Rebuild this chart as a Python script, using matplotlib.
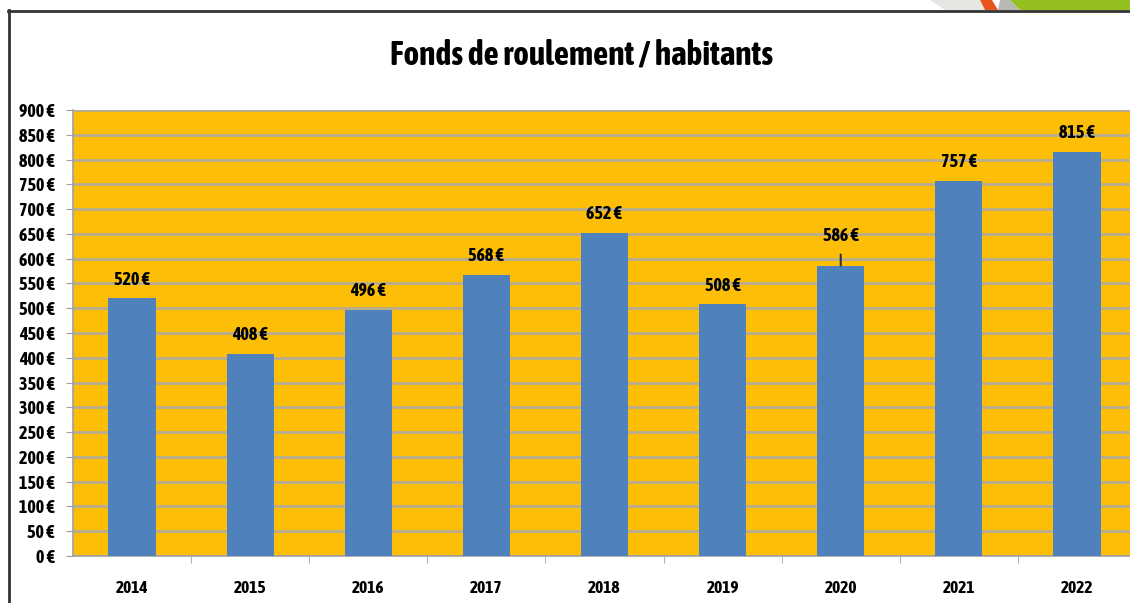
import matplotlib.pyplot as plt
from matplotlib import font_manager
from matplotlib.patches import Polygon
from matplotlib.lines import Line2D

years = ['2014', '2015', '2016', '2017', '2018', '2019', '2020', '2021', '2022']
values = [520, 408, 496, 568, 652, 508, 586, 757, 815]
yticks = list(range(0, 901, 50))
ytick_labels = ['%d €' % v for v in yticks]
title = 'Fonds de roulement / habitants'


def wt(f):
    w = f.weight
    return w if isinstance(w, int) else font_manager.weight_dict.get(w, 400)


# look for an upright bold narrow / condensed face, otherwise Roboto
narrow = [f for f in font_manager.fontManager.ttflist
          if ('Narrow' in f.name or 'Condensed' in f.name
              or f.stretch in ('condensed', 'semi-condensed'))]
bold_narrow = sorted(set(f.name for f in narrow if wt(f) >= 600 and f.style == 'normal'))
if bold_narrow:
    fam = bold_narrow[0]
else:
    fam = 'Roboto'
plt.rcParams['font.family'] = [fam, 'DejaVu Sans']
plt.rcParams['font.style'] = 'normal'

W, H = 1130, 603
fig = plt.figure(figsize=(W / 100, H / 100), dpi=100, facecolor='white')

# plot area in pixels (left, top, right, bottom)
l, t, r, b = 73, 110, 1136, 556
ax = fig.add_axes([l / W, 1 - b / H, (r - l) / W, (b - t) / H], facecolor='#FCBE07')

x = range(len(years))
ax.bar(x, values, width=0.4, color='#4F81BD', zorder=3)
ax.set_xlim(-0.5, len(years) - 0.5)
ax.set_ylim(0, 900)
ax.set_yticks(yticks)
ax.set_yticklabels(ytick_labels, fontsize=13, fontweight='bold')
ax.set_xticks(list(x))
ax.set_xticklabels(years, fontsize=12.5, fontweight='bold')
ax.set_xticks([i + 0.5 for i in x][:-1], minor=True)
ax.tick_params(axis='x', which='major', length=0, pad=17)
ax.tick_params(axis='x', which='minor', length=5, color='#A0A0A0', direction='out')
ax.tick_params(axis='y', length=5, color='#A0A0A0', direction='out', pad=8)
ax.yaxis.grid(True, color='#B8AC92', lw=2, zorder=1)
ax.set_axisbelow(True)
for s in ('top', 'right'):
    ax.spines[s].set_visible(False)
for s in ('left', 'bottom'):
    ax.spines[s].set_color('#A0A0A0')
    ax.spines[s].set_linewidth(1.2)

for i, v in enumerate(values):
    if years[i] == '2020':
        ax.annotate('%d €' % v, xy=(i, v), xytext=(0, 15), textcoords='offset points',
                    ha='center', va='bottom', fontsize=13, fontweight='bold',
                    arrowprops=dict(arrowstyle='-', color='#333333', lw=1.5,
                                    shrinkA=5, shrinkB=0))
    else:
        ax.annotate('%d €' % v, xy=(i, v), xytext=(0, 7), textcoords='offset points',
                    ha='center', va='bottom', fontsize=13, fontweight='bold')

fig.text(0.515, 1 - 55 / H, title, ha='center', va='center', fontsize=24, fontweight='bold')

# frame lines
fig.add_artist(Line2D([8.5 / W, 8.5 / W], [0, 1 - 10 / H], color='#333333', lw=2))
fig.add_artist(Line2D([8 / W, 1], [1 - 10.5 / H, 1 - 10.5 / H], color='#333333', lw=2))

# decoration top-right
def poly(pts, color):
    fig.add_artist(Polygon([(px / W, 1 - py / H) for px, py in pts], closed=True,
                           transform=fig.transFigure, facecolor=color, edgecolor='none'))

poly([(930, 0), (980, 0), (985, 10), (945, 10)], '#E6E6E2')
poly([(1000, 0), (1010, 0), (1020, 10), (998, 10)], '#B8B8B4')
poly([(980, 0), (992, 0), (998, 10), (985, 10)], '#E8531E')
poly([(1010, 0), (1130, 0), (1130, 10), (1020, 10)], '#93C01F')

fig.savefig('out.png', dpi=100)
